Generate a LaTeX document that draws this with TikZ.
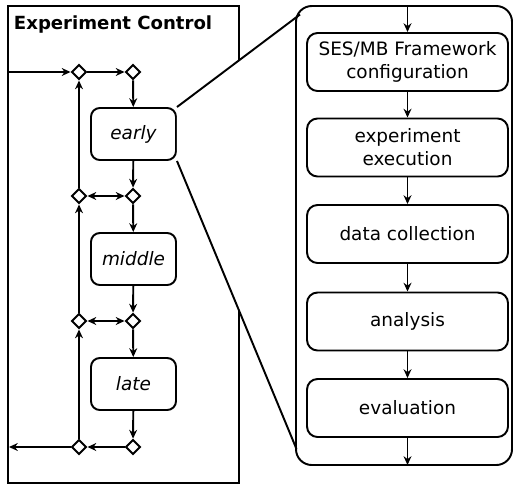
\documentclass[tikz,border=0pt]{standalone}
\usepackage{fontspec}
\setmainfont{DejaVu Sans}
\usetikzlibrary{arrows.meta, positioning, shapes.geometric}

\begin{document}
\begin{tikzpicture}[
    >={Stealth[length=5pt,width=4.5pt]},
    font=\fontsize{10.5}{13}\selectfont,
    line width=1.1pt,
    phase/.style={rectangle, draw, rounded corners=5pt, minimum width=1.7cm, minimum height=1.04cm, align=center, font=\fontsize{10.5}{13}\selectfont\itshape, fill=white},
    gate/.style={diamond, draw, minimum width=0.3cm, minimum height=0.3cm, inner sep=0pt, fill=white},
    task/.style={rectangle, draw, rounded corners=6pt, minimum width=4.02cm, minimum height=1.16cm, align=center, fill=white},
    arrow/.style={->}
]
\useasboundingbox (0,0) rectangle (10.26,-9.70);

\node[gate] (g1l) at (1.58,-1.44) {};
\node[gate] (g1r) at (2.66,-1.44) {};
\node[phase] (early) at (2.67,-2.68) {early};
\node[gate] (g2l) at (1.58,-3.92) {};
\node[gate] (g2r) at (2.66,-3.92) {};
\node[phase] (middle) at (2.67,-5.18) {middle};
\node[gate] (g3l) at (1.58,-6.42) {};
\node[gate] (g3r) at (2.66,-6.42) {};
\node[phase] (late) at (2.67,-7.68) {late};
\node[gate] (g4l) at (1.58,-8.94) {};
\node[gate] (g4r) at (2.66,-8.94) {};

\coordinate (in) at (0.16,-1.44);
\coordinate (out) at (0.18,-8.94);

\node[task] (config) at (8.15,-1.24) {SES/MB Framework\\configuration};
\node[task] (exec) at (8.15,-2.95) {experiment\\execution};
\node[task] (collect) at (8.15,-4.68) {data collection};
\node[task] (analysis) at (8.15,-6.43) {analysis};
\node[task] (eval) at (8.15,-8.16) {evaluation};

\coordinate (top) at (8.15,-0.12);
\coordinate (bot) at (8.15,-9.30);
\coordinate (zoomtop) at (6.0,-0.29);
\coordinate (zoombot) at (5.93,-8.98);

% experiment control frame
\draw (0.16,-0.12) rectangle (4.78,-9.66);
\node[anchor=base west, inner sep=0pt, font=\fontsize{10.3}{12}\selectfont\bfseries] (title) at (0.26,-0.58) {Experiment Control};

% zoom cone
\fill[white] (early.north east) -- (zoomtop) -- (zoombot) -- (early.south east) -- cycle;
\draw (early.north east) -- (zoomtop);
\draw (early.south east) -- (zoombot);

% right frame
\draw[rounded corners=9pt] (5.92,-0.12) rectangle (10.24,-9.30);

\draw[arrow] (in) -- (g1l);
\draw[arrow] (g1l) -- (g1r);
\draw[arrow] (g1r) -- (early);
\draw[arrow] (early) -- (g2r);
\draw[<->] (g2l) -- (g2r);
\draw[arrow] (g2l) -- (g1l);
\draw[arrow] (g2r) -- (middle);
\draw[arrow] (middle) -- (g3r);
\draw[<->] (g3l) -- (g3r);
\draw[arrow] (g3l) -- (g2l);
\draw[arrow] (g3r) -- (late);
\draw[arrow] (late) -- (g4r);
\draw[arrow] (g4r) -- (g4l);
\draw[arrow] (g4l) -- (out);
\draw[arrow] (g4l) -- (g3l);

\draw[arrow] (top) -- (config);
\draw[arrow] (config) -- (exec);
\draw[arrow] (exec) -- (collect);
\draw[arrow] (collect) -- (analysis);
\draw[arrow] (analysis) -- (eval);
\draw[arrow] (eval) -- (bot);
\end{tikzpicture}
\end{document}
